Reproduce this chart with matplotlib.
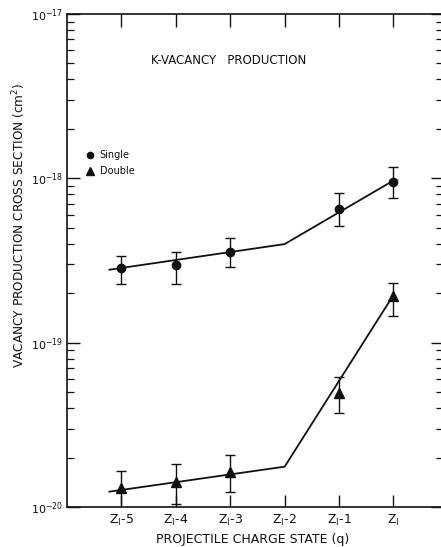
import matplotlib
matplotlib.use("Agg")
import matplotlib.pyplot as plt
from matplotlib.ticker import LogLocator, NullFormatter, FixedLocator

# Projectile charge states (position index 1..6)
charge_labels = [r"Z$_{\rm I}$-5", r"Z$_{\rm I}$-4", r"Z$_{\rm I}$-3",
                 r"Z$_{\rm I}$-2", r"Z$_{\rm I}$-1", r"Z$_{\rm I}$"]
charge_pos = [1, 2, 3, 4, 5, 6]

# Single K-vacancy production (cm^2), measured at Z1-5, Z1-4, Z1-3, Z1-1, Z1
single_x = [1, 2, 3, 5, 6]
single_y = [2.84e-19, 2.96e-19, 3.56e-19, 6.48e-19, 9.55e-19]
single_hi = [3.38e-19, 3.58e-19, 4.31e-19, 8.10e-19, 1.18e-18]
single_lo = [2.28e-19, 2.26e-19, 2.90e-19, 5.13e-19, 7.62e-19]

# Double K-vacancy production (cm^2)
double_x = [1, 2, 3, 5, 6]
double_y = [1.30e-20, 1.41e-20, 1.64e-20, 4.94e-20, 1.91e-19]
double_hi = [1.66e-20, 1.83e-20, 2.06e-20, 6.21e-20, 2.32e-19]
double_lo = [0.90e-20, 1.05e-20, 1.23e-20, 3.72e-20, 1.46e-19]

# Guide lines drawn through each series
single_fit_x = [0.78, 4, 6]
single_fit_y = [2.78e-19, 3.98e-19, 9.7e-19]
double_fit_x = [0.78, 4, 6]
double_fit_y = [1.24e-20, 1.76e-20, 1.95e-19]

fig = plt.figure(figsize=(4.41, 5.47), dpi=100)
ax = fig.add_axes([67 / 441, 40 / 547, (443 - 67) / 441, (507 - 14) / 547])
ax.set_yscale("log")
ax.set_ylim(1e-20, 1e-17)
ax.set_xlim(0, 6.91)

ink = "#111111"

ax.plot(single_fit_x, single_fit_y, color=ink, lw=1.3, zorder=2)
ax.plot(double_fit_x, double_fit_y, color=ink, lw=1.3, zorder=2)

def bars(xs, ys, lo, hi, marker, ms):
    yerr = [[y - l for y, l in zip(ys, lo)], [h - y for y, h in zip(ys, hi)]]
    ax.errorbar(xs, ys, yerr=yerr, fmt=marker, color=ink, ms=ms,
                ecolor=ink, elinewidth=1.0, capsize=3.5, capthick=1.0,
                zorder=3, clip_on=True)

bars(single_x, single_y, single_lo, single_hi, "o", 6)
bars(double_x, double_y, double_lo, double_hi, "^", 7)

# Legend drawn as marker + text
ax.plot([0.42], [1.39e-18], "o", color=ink, ms=4.5)
ax.text(0.6, 1.39e-18, "Single", fontsize=7, va="center", ha="left", color=ink)
ax.plot([0.42], [1.11e-18], "^", color=ink, ms=5.5)
ax.text(0.6, 1.11e-18, "Double", fontsize=7, va="center", ha="left", color=ink)

ax.text(0.43, 0.906, "K-VACANCY   PRODUCTION", transform=ax.transAxes,
        fontsize=8.5, ha="center", va="center", color=ink)

# Axes and ticks
for side in ["left", "bottom", "top", "right"]:
    ax.spines[side].set_linewidth(1.2)
    ax.spines[side].set_color(ink)
ax.spines["right"].set_visible(False)
ax.xaxis.set_major_locator(FixedLocator(charge_pos))
ax.set_xticklabels(charge_labels, fontsize=9)
ax.tick_params(axis="x", which="major", direction="in", length=9, width=1.0,
               top=True, bottom=True, pad=4, colors=ink)
ax.set_yticks([1e-20, 1e-19, 1e-18, 1e-17])
ax.yaxis.set_minor_locator(LogLocator(base=10, subs=range(2, 10), numticks=20))
ax.yaxis.set_minor_formatter(NullFormatter())
ax.set_yticklabels([r"10$^{-20}$", r"10$^{-19}$", r"10$^{-18}$", r"10$^{-17}$"],
                   fontsize=8)
ax.tick_params(axis="y", which="major", direction="in", length=9, width=1.0,
               left=True, right=True, pad=3, colors=ink)
ax.tick_params(axis="y", which="minor", direction="in", length=5, width=0.9,
               left=True, right=True, colors=ink)

ax.set_xlabel("PROJECTILE CHARGE STATE (q)", fontsize=9, color=ink)
ax.xaxis.set_label_coords(0.495, -0.052)
ax.set_ylabel("VACANCY PRODUCTION CROSS SECTION (cm$^2$)", fontsize=8.7,
              color=ink)
ax.yaxis.set_label_coords(-0.128, 0.572)
ax.yaxis.label.set_va("center")

fig.savefig("out.png", dpi=100)
